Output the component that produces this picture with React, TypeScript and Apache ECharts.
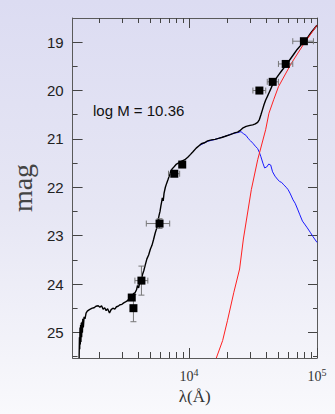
import { useEffect, useRef } from "react";
import * as echarts from "echarts";

// ---- data ----
const photLambda = [3580, 3690, 4260, 5900, 7690, 8870, 35500, 45100, 57000, 79000];
const photMag = [24.28, 24.5, 23.93, 22.75, 21.72, 21.53, 20.0, 19.82, 19.45, 18.98];
const photLambdaLo = [3480, 3600, 3790, 4650, 6930, 8870, 31600, 40900, 50000, 64700];
const photLambdaHi = [3690, 3790, 4780, 7080, 8470, 8870, 39800, 50000, 64700, 93800];
const photMagErr = [0.05, 0.28, 0.3, 0.1, 0.05, 0.0, 0.0, 0.0, 0.0, 0.0];

const totalSed: [number, number][] = [
  [1390, 25.53], [1398, 25.1], [1405, 25.35], [1412, 24.9], [1420, 25.25], [1428, 24.85],
  [1436, 25.2], [1445, 24.8], [1455, 25.1], [1465, 24.78], [1475, 25.0], [1485, 24.72],
  [1500, 24.9], [1520, 24.68], [1545, 24.72], [1575, 24.6], [1610, 24.56], [1650, 24.54],
  [1700, 24.52], [1760, 24.5], [1820, 24.49], [1880, 24.46], [1960, 24.45], [2020, 24.48],
  [2080, 24.45], [2140, 24.52], [2200, 24.49], [2260, 24.55], [2320, 24.51], [2400, 24.6],
  [2470, 24.53], [2550, 24.5], [2640, 24.52], [2720, 24.47], [2800, 24.46], [2900, 24.43],
  [3000, 24.42], [3100, 24.39], [3200, 24.37], [3300, 24.35], [3400, 24.31], [3500, 24.28],
  [3600, 24.25], [3700, 24.2], [3800, 24.18], [3900, 24.12], [3970, 24.03], [4050, 24.08],
  [4150, 23.95], [4260, 23.9], [4350, 23.8], [4450, 23.72], [4550, 23.62], [4700, 23.48],
  [4850, 23.4], [5000, 23.28], [5150, 23.2], [5300, 23.08], [5450, 22.95], [5600, 22.85],
  [5750, 22.68], [5850, 22.58], [5950, 22.5], [6050, 22.38], [6150, 22.28], [6200, 22.22],
  [6300, 22.28], [6400, 22.12], [6550, 22.0], [6700, 21.92], [6850, 21.85], [7000, 21.78],
  [7200, 21.68], [7400, 21.62], [7700, 21.57], [8000, 21.52], [8400, 21.49], [8800, 21.46],
  [9300, 21.43], [9800, 21.38], [10300, 21.32], [10800, 21.26], [11400, 21.19], [12000, 21.14],
  [12500, 21.1], [13200, 21.08], [14000, 21.04], [15000, 21.02], [16000, 21.01], [17000, 20.99],
  [18000, 20.97], [19000, 20.95], [20000, 20.93], [21000, 20.91], [22000, 20.89], [23000, 20.87],
  [24000, 20.86], [25000, 20.83], [26500, 20.77], [28000, 20.74], [30000, 20.72], [31500, 20.71],
  [33000, 20.69], [34400, 20.66], [35500, 20.6], [36500, 20.5], [37500, 20.4], [38500, 20.3],
  [39700, 20.2], [41000, 20.12], [42150, 20.05], [44000, 19.94], [46000, 19.82], [48000, 19.75],
  [50000, 19.68], [53000, 19.59], [56000, 19.51], [60000, 19.4], [65000, 19.27], [70000, 19.15],
  [76000, 19.04], [83000, 18.93], [90000, 18.8], [100000, 18.65],
];

const stellarSed: [number, number][] = [
  [12000, 21.14], [14000, 21.05], [16000, 21.01], [18000, 20.97], [20000, 20.93], [22000, 20.89],
  [24000, 20.87], [25500, 20.85], [26600, 20.89], [28000, 20.93], [29000, 20.99], [30300, 21.04],
  [31600, 21.09], [33000, 21.15], [34400, 21.2], [35500, 21.28], [36500, 21.37], [37800, 21.5],
  [39000, 21.6], [40500, 21.58], [42000, 21.52], [43500, 21.54], [45000, 21.68], [47000, 21.77],
  [49000, 21.83], [51000, 21.88], [53000, 21.9], [55000, 21.95], [57500, 22.0], [59500, 22.05],
  [61500, 22.12], [63500, 22.2], [65000, 22.26], [67500, 22.33], [70500, 22.45], [73500, 22.57],
  [77000, 22.7], [80000, 22.76], [84000, 22.84], [88500, 22.93], [93000, 23.02], [100000, 23.14],
];

const dustSed: [number, number][] = [
  [16370, 25.53], [18340, 25.17], [19990, 24.76], [22440, 24.17], [24880, 23.69], [26630, 23.07],
  [30710, 22.05], [34440, 21.43], [39730, 20.81], [42150, 20.47], [45900, 20.19], [50030, 19.92],
  [62960, 19.44], [79110, 19.03], [100000, 18.65],
];

const xMinorTicks = [2000, 3000, 4000, 5000, 6000, 7000, 8000, 9000, 20000, 30000, 40000, 50000, 60000, 70000, 80000, 90000];
const xMajorTicks = [10000, 100000];
const xLabelExponents = [4, 5];
const yMajorTicks = [19, 20, 21, 22, 23, 24, 25];
const yMinorTicks = [19.5, 20.5, 21.5, 22.5, 23.5, 24.5, 25.5];

const X_MIN = Math.log10(1236);
const X_MAX = 5;
const Y_MIN = 18.5;
const Y_MAX = 25.53;

const lg = (v: number) => Math.log10(v);
const FRAME = "#5a5a5a";

function makeX(position: "top" | "bottom", ticks: number[], len: number, showLine: boolean, showLabel: boolean): any {
  return {
    type: "value",
    position,
    min: X_MIN,
    max: X_MAX,
    axisLine: { show: showLine, onZero: false, lineStyle: { color: FRAME, width: 1 } },
    axisTick: { show: true, inside: true, length: len, customValues: ticks.map(lg), lineStyle: { color: "#444", width: 1 } },
    splitLine: { show: false },
    axisLabel: showLabel
      ? {
          show: true,
          customValues: xLabelExponents,
          margin: 9,
          formatter: (v: number) => `{b|10}{s|${Math.round(v)}}`,
          rich: {
            b: { fontFamily: "Liberation Serif", fontSize: 14, color: "#333", lineHeight: 16, verticalAlign: "bottom" },
            s: { fontFamily: "Liberation Serif", fontSize: 10, color: "#333", lineHeight: 10, verticalAlign: "top" },
          },
        }
      : { show: false },
  };
}

function makeY(position: "left" | "right", ticks: number[], len: number, showLine: boolean, showLabel: boolean): any {
  return {
    type: "value",
    position,
    inverse: true,
    min: Y_MIN,
    max: Y_MAX,
    axisLine: { show: showLine, onZero: false, lineStyle: { color: FRAME, width: 1 } },
    axisTick: { show: true, inside: true, length: len, customValues: ticks, lineStyle: { color: "#444", width: 1 } },
    splitLine: { show: false },
    axisLabel: showLabel
      ? { show: true, customValues: yMajorTicks, margin: 9, fontFamily: "Liberation Sans", fontSize: 15, color: "#222" }
      : { show: false },
  };
}

export default function App() {
  const ref = useRef<HTMLDivElement>(null);
  useEffect(() => {
    if (!ref.current) return;
    const chart = echarts.init(ref.current, null, { renderer: "svg" });
    const xMain = makeX("bottom", xMinorTicks, 6, true, true);
    xMain.name = "λ(Å)";
    xMain.nameLocation = "middle";
    xMain.nameGap = 25;
    xMain.nameTextStyle = { fontFamily: "Liberation Serif", fontSize: 17, color: "#333", verticalAlign: "top" };
    const yMain = makeY("left", yMajorTicks, 10, true, true);
    yMain.name = "mag";
    yMain.nameLocation = "middle";
    yMain.nameGap = 34;
    yMain.nameTextStyle = { fontFamily: "Liberation Serif", fontSize: 28, color: "#444" };

    const errData = photLambda.map((l, i) => [
      lg(photLambdaLo[i]), lg(photLambdaHi[i]), lg(l), photMag[i] - photMagErr[i], photMag[i] + photMagErr[i], photMag[i],
    ]);

    chart.setOption({
      animation: false,
      backgroundColor: "transparent",
      grid: { left: 61, right: 18, top: 18, bottom: 56 },
      xAxis: [
        xMain,
        makeX("bottom", xMajorTicks, 10, false, false),
        makeX("top", xMinorTicks, 5, true, false),
        makeX("top", xMajorTicks, 10, false, false),
      ],
      yAxis: [
        yMain,
        makeY("left", yMinorTicks, 5, false, false),
        makeY("right", yMajorTicks, 9, true, false),
        makeY("right", yMinorTicks, 4, false, false),
      ],
      graphic: [
        {
          type: "text",
          left: 93,
          top: 103,
          style: { text: "log M = 10.36", font: "15px 'Liberation Sans'", fill: "#111" },
        },
      ],
      series: [
        {
          type: "line",
          data: stellarSed.map(([l, m]) => [lg(l), m]),
          showSymbol: false,
          lineStyle: { color: "#1a1aff", width: 1 },
          z: 2,
        },
        {
          type: "line",
          data: totalSed.map(([l, m]) => [lg(l), m]),
          showSymbol: false,
          lineStyle: { color: "#000", width: 1.4 },
          z: 3,
        },
        {
          type: "line",
          data: dustSed.map(([l, m]) => [lg(l), m]),
          showSymbol: false,
          lineStyle: { color: "#ff2020", width: 1 },
          z: 4,
        },
        {
          type: "custom",
          data: errData,
          z: 5,
          renderItem: (_p: any, api: any) => {
            const lo = api.coord([api.value(0), api.value(5)]);
            const hi = api.coord([api.value(1), api.value(5)]);
            const top = api.coord([api.value(2), api.value(3)]);
            const bot = api.coord([api.value(2), api.value(4)]);
            const cap = 3;
            const st = { stroke: "#777", lineWidth: 1 };
            const children: any[] = [];
            if (hi[0] - lo[0] > 1) {
              children.push({ type: "line", shape: { x1: lo[0], y1: lo[1], x2: hi[0], y2: hi[1] }, style: st });
              children.push({ type: "line", shape: { x1: lo[0], y1: lo[1] - cap, x2: lo[0], y2: lo[1] + cap }, style: st });
              children.push({ type: "line", shape: { x1: hi[0], y1: hi[1] - cap, x2: hi[0], y2: hi[1] + cap }, style: st });
            }
            if (bot[1] - top[1] > 1) {
              children.push({ type: "line", shape: { x1: top[0], y1: top[1], x2: bot[0], y2: bot[1] }, style: st });
              children.push({ type: "line", shape: { x1: top[0] - cap, y1: top[1], x2: top[0] + cap, y2: top[1] }, style: st });
              children.push({ type: "line", shape: { x1: bot[0] - cap, y1: bot[1], x2: bot[0] + cap, y2: bot[1] }, style: st });
            }
            return { type: "group", children };
          },
        },
        {
          type: "scatter",
          data: photLambda.map((l, i) => [lg(l), photMag[i]]),
          symbol: "rect",
          symbolSize: 8,
          itemStyle: { color: "#000", opacity: 1 },
          z: 6,
        },
      ],
    });
    return () => chart.dispose();
  }, []);
  return (
    <div
      ref={ref}
      style={{
        position: "fixed",
        left: 0,
        top: 0,
        width: 335,
        height: 414,
        background: "linear-gradient(to bottom, #dcdcf2 0%, #e6e6f4 50%, #f9f9fc 100%)",
      }}
    />
  );
}
